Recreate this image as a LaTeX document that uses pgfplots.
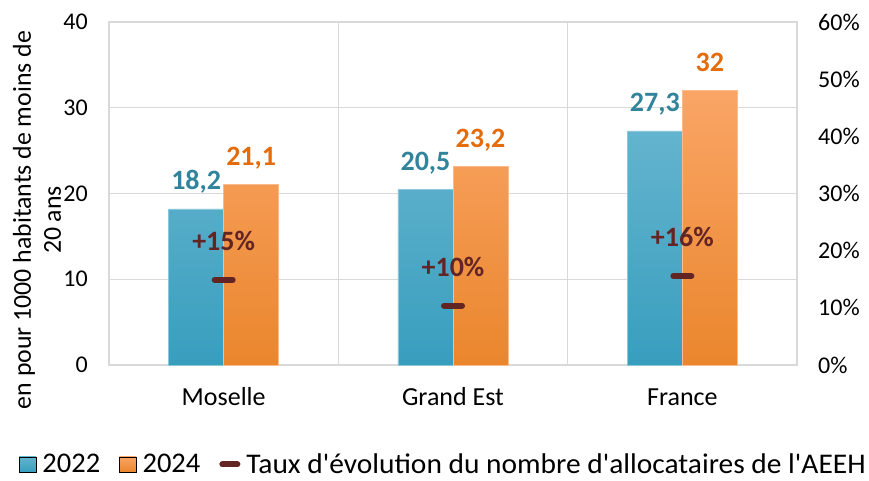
\documentclass[border=0pt]{standalone}
\usepackage{fontspec}
\setmainfont{Carlito}[Ligatures=TeXOff]
\usepackage{pgfplots}
\pgfplotsset{compat=1.18}
\pgfplotsset{/pgf/number format/assume math mode=true}
\definecolor{gridc}{RGB}{217,217,217}
\definecolor{btop}{RGB}{100,180,206}
\definecolor{bbot}{RGB}{56,158,190}
\definecolor{otop}{RGB}{250,165,102}
\definecolor{obot}{RGB}{234,134,45}
\definecolor{blab}{RGB}{49,132,155}
\definecolor{olab}{RGB}{228,108,10}
\definecolor{mk}{RGB}{99,37,35}
\begin{document}
\begin{tikzpicture}
\useasboundingbox (0,0) rectangle (869pt,480pt);
\begin{axis}[
 at={(109pt,115pt)}, anchor=south west,
 width=688pt, height=343pt, scale only axis,
 xmin=-0.5, xmax=2.5, ymin=0, ymax=40,
 xtick={0,1,2}, xticklabels={Moselle,Grand Est,France},
 ytick={0,10,20,30,40}, yticklabels={0,10,20,30,40},
 axis line style={gridc, line width=1.2pt},
 ymajorgrids, grid style={gridc, line width=1.2pt},
 extra x ticks={0.5,1.5}, extra x tick labels={},
 extra x tick style={grid=major, major tick length=0pt},
 major tick length=0pt,
 tick label style={text=black},
 xticklabel style={font=\fontsize{26}{30}\selectfont, anchor=base, inner sep=0pt, yshift=-40pt},
 yticklabel style={font=\fontsize{24}{28}\selectfont, anchor=east, inner sep=0pt, xshift=-21pt},
 ybar, bar width=0.24,
 nodes near coords={\pgfmathprintnumber[use comma]{\pgfplotspointmeta}},
 every node near coord/.append style={font=\fontsize{28}{32}\selectfont\bfseries, anchor=base, yshift=19pt, inner sep=0pt},
 clip=false,
]
\addplot[bar shift=-0.12, top color=btop, bottom color=bbot, draw=btop!75!white, line width=0.8pt,
  every node near coord/.append style={text=blab}]
  coordinates {(0,18.2) (1,20.5) (2,27.3)};
\addplot[bar shift=0.12, top color=otop, bottom color=obot, draw=otop!75!white, line width=0.8pt,
  every node near coord/.append style={text=olab}]
  coordinates {(0,21.1) (1,23.2) (2,32)};
\end{axis}
\begin{axis}[
 at={(109pt,115pt)}, anchor=south west,
 width=688pt, height=343pt, scale only axis,
 xmin=-0.5, xmax=2.5, ymin=0, ymax=60,
 axis x line=none, axis y line*=right, y axis line style={draw=none},
 ytick={0,10,20,30,40,50,60}, yticklabels={0\%,10\%,20\%,30\%,40\%,50\%,60\%},
 major tick length=0pt,
 yticklabel style={font=\fontsize{24}{28}\selectfont, anchor=west, inner sep=0pt, xshift=21pt, text=black},
 clip=false,
 legend columns=-1,
 legend style={at={(axis description cs:-0.1308,-0.3207)}, anchor=south west,
   draw=none, fill=none, inner sep=0pt, outer sep=0pt,
   font=\fontsize{28.5}{32}\selectfont,
   nodes={inner sep=0pt},
   /tikz/every odd column/.append style={column sep=6pt},
   /tikz/every even column/.append style={column sep=19pt}},
]
\addlegendimage{legend image code/.code={\shade[top color=btop,bottom color=bbot] (0pt,-7.5pt) rectangle (17pt,7.5pt);}}
\addlegendentry{2022}
\addlegendimage{legend image code/.code={\shade[top color=otop,bottom color=obot] (0pt,-7.5pt) rectangle (17pt,7.5pt);}}
\addlegendentry{2024}
\addplot[only marks, mark=-, mark size=9pt, mark options={line width=6pt, line cap=round, draw=mk},
  point meta=explicit symbolic, nodes near coords,
  every node near coord/.append style={font=\fontsize{28}{32}\selectfont\bfseries, text=mk, anchor=base, yshift=29pt, inner sep=0pt},
  legend image code/.code={\draw[mk, line width=6pt, line cap=round] (3pt,0pt) -- (18pt,0pt);}]
  coordinates {(0,14.9) [+15\%] (1,10.4) [+10\%] (2,15.6) [+16\%]};
\addlegendentry{\addfontfeature{FakeStretch=1.033}Taux d'évolution du nombre d'allocataires de l'AEEH}
\end{axis}
\node[rotate=90, align=center, font=\fontsize{25.8}{30}\selectfont, inner sep=0pt] at (37pt,260pt)
  {en pour 1000 habitants de moins de\\20 ans};
\end{tikzpicture}
\end{document}
